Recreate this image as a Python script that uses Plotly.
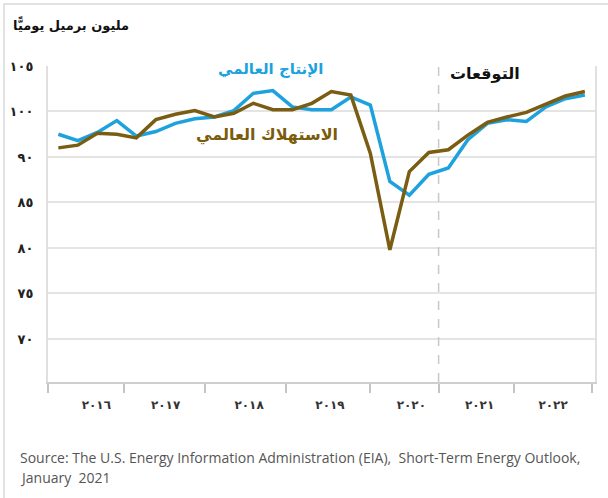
import plotly.graph_objects as go

# ---- data (million barrels per day, quarterly 2016Q1 .. 2022Q4) ----
quarters = [f"{y}Q{q}" for y in range(2016, 2023) for q in range(1, 5)]
production = [97.5, 96.8, 97.7, 99.0, 97.3, 97.8, 98.7, 99.2,
              99.4, 100.1, 102.0, 102.3, 100.5, 100.2, 100.2, 101.6,
              100.7, 92.3, 90.8, 93.1, 93.8, 96.9, 98.7, 99.1,
              98.9, 100.5, 101.4, 101.8]
consumption = [96.0, 96.3, 97.6, 97.5, 97.1, 99.1, 99.7, 100.1,
               99.4, 99.8, 100.9, 100.2, 100.2, 100.9, 102.2, 101.8,
               95.4, 84.8, 93.4, 95.5, 95.8, 97.4, 98.8, 99.4,
               99.9, 100.8, 101.7, 102.2]

year_labels = ["٢٠١٦", "٢٠١٧", "٢٠١٨", "٢٠١٩", "٢٠٢٠", "٢٠٢١", "٢٠٢٢"]
year_label_pos = [1.95, 5.5, 9.78, 13.93, 18.1, 21.6, 25.37]
year_bounds = [-0.53, 3.37, 7.52, 11.68, 15.98, 19.5, 23.37, 27.37]
forecast_start = 19.5

y_tickvals = [105, 100, 95, 90, 85, 80, 75]
y_ticktext = ["١٠٥", "١٠٠", "٩٠", "٨٥", "٨٠", "٧٥", "٧٠"]

title_text = "مليون برميل يوميًّا"
prod_label = "الإنتاج العالمي"
cons_label = "الاستهلاك العالمي"
forecast_label = "التوقعات"
source_line1 = "Source: The U.S. Energy Information Administration (EIA),  Short-Term Energy Outlook,"
source_line2 = "January  2021"

BLUE = "#1ea2dd"
BROWN = "#7a5c12"
AR_FONT = "DejaVu Sans, Noto Sans, sans-serif"

x = list(range(len(quarters)))

fig = go.Figure()
fig.add_trace(go.Scatter(x=x, y=production, mode="lines", name=prod_label,
                         text=quarters, line=dict(color=BLUE, width=3.5)))
fig.add_trace(go.Scatter(x=x, y=consumption, mode="lines", name=cons_label,
                         text=quarters, line=dict(color=BROWN, width=3.5)))

fig.update_layout(
    width=608, height=498,
    margin=dict(l=48, r=13, t=66, b=116, autoexpand=False),
    paper_bgcolor="white", plot_bgcolor="white",
    showlegend=False,
    xaxis=dict(
        range=[-0.53, 27.52], showgrid=False, zeroline=False, automargin=False,
        showline=True, linecolor="#cfcfcf", linewidth=2,
        tickmode="array", tickvals=year_label_pos, ticktext=year_labels,
        ticks="outside", ticklen=11, tickcolor="rgba(0,0,0,0)",
        tickfont=dict(family=AR_FONT, size=12, color="#333333", weight="bold"),
        minor=dict(tickmode="array", tickvals=year_bounds, ticks="outside",
                   ticklen=9, tickcolor="#c4c4c4", tickwidth=1.5, showgrid=False),
    ),
    yaxis=dict(
        range=[70.27, 105], showgrid=True, gridcolor="#e4e4e4", gridwidth=2,
        zeroline=False, showline=True, mirror=True, linecolor="#e0e0e0", linewidth=2,
        automargin=False,
        tickmode="array", tickvals=y_tickvals, ticktext=y_ticktext,
        ticks="", ticklabelstandoff=10,
        tickfont=dict(family=AR_FONT, size=13, color="#222222", weight="bold"),
    ),
)

# forecast divider
fig.add_shape(type="line", xref="x", yref="paper", x0=forecast_start, x1=forecast_start,
              y0=0, y1=1, line=dict(color="#c8c8c8", width=1.5, dash="dash"))
# outer frame
fig.add_shape(type="rect", xref="paper", yref="paper",
              x0=(4 - 48) / 547, x1=(640 - 48) / 547,
              y0=(382 - 540) / 316, y1=(382 - 4) / 316,
              line=dict(color="#e2e2e2", width=2), layer="below")

fig.add_annotation(text=f"<b>{title_text}</b>", xref="paper", yref="paper",
                   x=(131 - 48) / 547, y=(382 - 25) / 316, xanchor="right", yanchor="middle",
                   showarrow=False, font=dict(family=AR_FONT, size=13, color="#111111"))
fig.add_annotation(text=f"<b>{prod_label}</b>", x=10.9, y=104.67, xref="x", yref="y",
                   showarrow=False, font=dict(family=AR_FONT, size=15, color="#1ba3e0"))
fig.add_annotation(text=f"<b>{cons_label}</b>", x=10.68, y=97.42, xref="x", yref="y",
                   showarrow=False, font=dict(family=AR_FONT, size=16, color="#7a5c0a"))
fig.add_annotation(text=f"<b>{forecast_label}</b>", x=21.88, y=104.23, xref="x", yref="y",
                   showarrow=False, font=dict(family=AR_FONT, size=16, color="#111111"))

fig.add_annotation(text=source_line1, xref="paper", yref="paper",
                   x=(18 - 48) / 547, y=(382 - 457) / 316, xanchor="left", yanchor="middle",
                   showarrow=False, font=dict(family="Open Sans, sans-serif", size=14, color="#555555"))
fig.add_annotation(text=source_line2, xref="paper", yref="paper",
                   x=(18 - 48) / 547, y=(382 - 477) / 316, xanchor="left", yanchor="middle",
                   showarrow=False, font=dict(family="Open Sans, sans-serif", size=14, color="#555555"))

fig.write_html("out.html", config={"displayModeBar": False},
               post_script="document.body.style.margin='0';")
